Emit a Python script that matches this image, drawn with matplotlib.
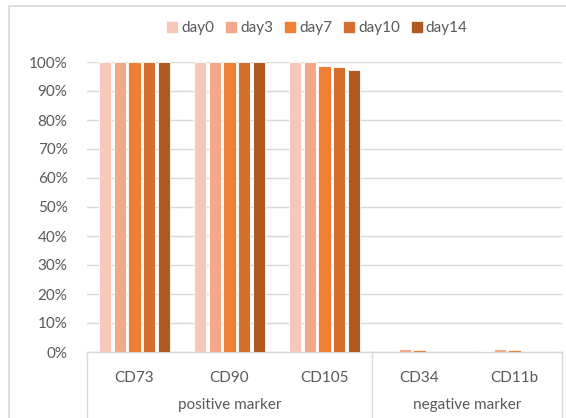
import matplotlib
matplotlib.use('Agg')
import matplotlib.pyplot as plt
from matplotlib.lines import Line2D
from matplotlib.patches import Rectangle
import numpy as np

plt.rcParams['font.family'] = ['Lato', 'DejaVu Sans']

# data (fraction of positive cells)
markers = ['CD73', 'CD90', 'CD105', 'CD34', 'CD11b']
groups = ['positive marker', 'negative marker']
group_sizes = [3, 2]
days = ['day0', 'day3', 'day7', 'day10', 'day14']
day0 = [1.000, 1.000, 1.000, 0.000, 0.003]
day3 = [1.000, 1.000, 1.000, 0.010, 0.010]
day7 = [1.000, 1.000, 0.986, 0.007, 0.007]
day10 = [1.000, 1.000, 0.983, 0.000, 0.005]
day14 = [1.000, 1.000, 0.972, 0.000, 0.005]
series = [day0, day3, day7, day10, day14]
colors = ['#F5C8B8', '#F1A98A', '#EE7F35', '#D46F2D', '#B05A22']

W, H = 566, 418
fig = plt.figure(figsize=(W / 100, H / 100), dpi=100)
ax = fig.add_axes([87 / W, 1 - 352 / H, (562 - 87) / W, 290 / H])

x = np.arange(len(markers)) + 0.5
pitch = 0.155
for j, (vals, c) in enumerate(zip(series, colors)):
    ax.bar(x + (j - 2) * pitch, vals, width=0.128, color=c,
           edgecolor='white', linewidth=0.6, label=days[j], zorder=3)

ax.set_xlim(0, len(markers))
ax.set_ylim(0, 1)
ax.set_yticks(np.arange(0, 1.01, 0.1))
ax.set_yticklabels(['%d%%' % v for v in range(0, 101, 10)])
ax.tick_params(axis='y', length=0, pad=14, labelsize=11, labelcolor='#595959')
ax.set_xticks([])
ax.grid(axis='y', color='#D9D9D9', linewidth=1, zorder=0)
for s in ['top', 'right', 'left']:
    ax.spines[s].set_visible(False)
ax.spines['bottom'].set_color('#D9D9D9')
ax.spines['bottom'].set_linewidth(1)

# multi-level category axis
for xi, m in zip(x, markers):
    ax.text(xi, -0.09, m, ha='center', va='center', fontsize=11,
            color='#595959', transform=ax.get_xaxis_transform())
start = 0
sep_col = '#D9D9D9'
for g, n in zip(groups, group_sizes):
    ax.text(start + n / 2, -0.182, g, ha='center', va='center', fontsize=11,
            color='#595959', transform=ax.get_xaxis_transform())
    start += n
for b in [0, group_sizes[0], len(markers)]:
    ax.add_line(Line2D([b, b], [0, -0.25], color=sep_col, linewidth=1,
                       transform=ax.get_xaxis_transform(), clip_on=False))

# legend
fig.legend(handles=[Line2D([], [], marker='s', linestyle='', markersize=7,
                           color=c, label=d) for c, d in zip(colors, days)],
           loc='center', bbox_to_anchor=(316 / W, 1 - 28 / H), ncol=5,
           frameon=False, fontsize=11, labelcolor='#595959',
           handletextpad=0.1, columnspacing=0.6, handlelength=1.0)

# chart border
fig.patches.append(Rectangle((9 / W, -0.02), 1.0, 1 - 6 / H + 0.02,
                             transform=fig.transFigure, fill=False,
                             edgecolor='#D9D9D9', linewidth=1.2))

fig.savefig('out.png', dpi=100)
